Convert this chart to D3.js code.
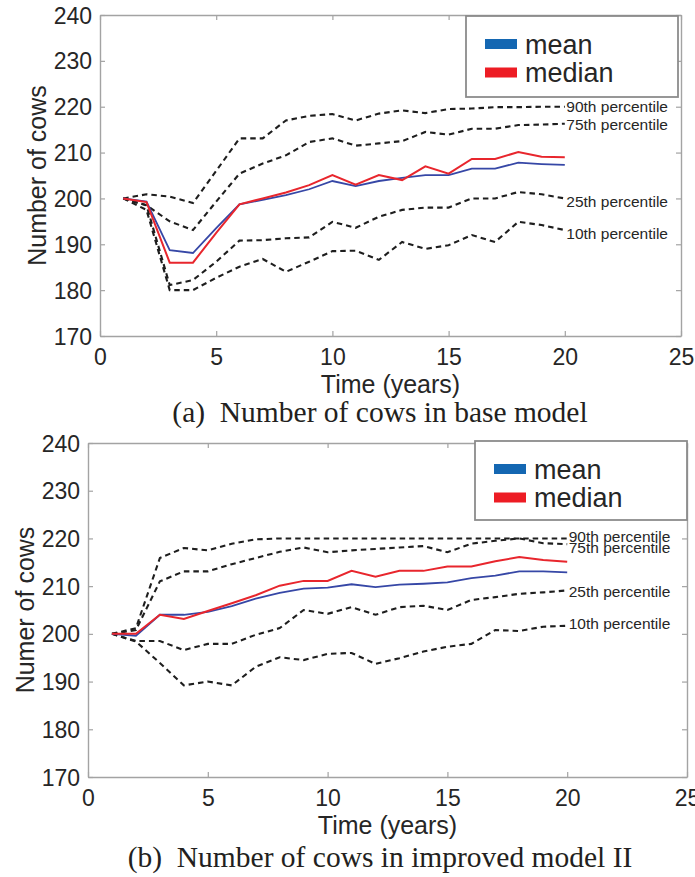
<!DOCTYPE html>
<html>
<head>
<meta charset="utf-8">
<script src="https://cdn.jsdelivr.net/npm/d3@7/dist/d3.min.js"></script>
<style>
  html, body { margin: 0; padding: 0; background: #fff; }
  svg { display: block; }
</style>
</head>
<body>
<svg id="chart" width="695" height="877"></svg>
<script>
// ---------------- DATA ----------------
const years = [1, 2, 3, 4, 5, 6, 7, 8, 9, 10, 11, 12, 13, 14, 15, 16, 17, 18, 19, 20];
const xTicks = [0, 5, 10, 15, 20, 25];
const yTicks = [170, 180, 190, 200, 210, 220, 230, 240];
const legendLabels = ["mean", "median"];
const percentileLabels = ["90th percentile", "75th percentile", "25th percentile", "10th percentile"];

// (a) base model
const baseMean   = [200, 199.3, 188.7, 188.1, 193.5, 198.7, 199.7, 200.7, 202.0, 203.8, 202.7, 203.8, 204.5, 205.1, 205.1, 206.5, 206.5, 207.8, 207.5, 207.3];
const baseMedian = [200, 199.2, 186.0, 186.0, 192.5, 198.7, 200.0, 201.3, 202.9, 205.1, 203.0, 205.1, 204.0, 207.0, 205.4, 208.6, 208.6, 210.1, 209.1, 209.0];
const baseP90    = [200, 200.9, 200.4, 199.0, 206.0, 213.1, 213.1, 217.0, 218.0, 218.4, 217.0, 218.5, 219.2, 218.6, 219.5, 219.6, 219.9, 219.9, 220.0, 220.0];
const baseP75    = [200, 198.5, 195.0, 193.1, 199.3, 205.4, 207.6, 209.4, 212.3, 213.1, 211.5, 212.0, 212.5, 214.5, 213.9, 215.2, 215.2, 216.0, 216.1, 216.3];
const baseP25    = [200, 198.5, 181.1, 182.2, 186.2, 190.8, 190.9, 191.3, 191.5, 194.9, 193.6, 196.0, 197.5, 198.0, 198.0, 200.0, 200.0, 201.4, 200.9, 200.0];
const baseP10    = [200, 197.5, 180.0, 180.0, 182.7, 185.1, 186.8, 184.0, 186.2, 188.5, 188.6, 186.6, 190.5, 189.0, 189.8, 192.0, 190.5, 194.9, 194.2, 193.1];

// (b) improved model II
const impMean   = [200, 199.6, 204.0, 204.0, 204.6, 205.8, 207.4, 208.6, 209.5, 209.7, 210.4, 209.8, 210.3, 210.5, 210.8, 211.7, 212.2, 213.1, 213.1, 212.9];
const impMedian = [200, 200.0, 204.0, 203.1, 204.8, 206.4, 208.1, 210.1, 211.1, 211.1, 213.2, 212.0, 213.2, 213.2, 214.1, 214.1, 215.2, 216.1, 215.5, 215.1];
const impP90    = [200, 201.2, 215.9, 218.0, 217.5, 218.9, 219.8, 220.0, 220.0, 220.0, 220.0, 220.0, 220.0, 220.0, 220.0, 220.0, 220.0, 220.0, 220.0, 220.0];
const impP75    = [200, 200.8, 211.0, 213.1, 213.1, 214.6, 215.9, 217.2, 218.1, 217.1, 217.5, 217.8, 218.1, 218.4, 217.1, 218.9, 219.5, 220.0, 219.0, 218.8];
const impP25    = [200, 198.5, 198.5, 196.6, 197.9, 197.9, 199.8, 201.2, 205.0, 204.2, 205.6, 204.0, 205.6, 205.9, 205.0, 207.1, 207.7, 208.4, 208.7, 209.1];
const impP10    = [200, 198.4, 193.9, 189.2, 190.0, 189.2, 193.1, 195.1, 194.5, 195.8, 196.0, 193.7, 194.9, 196.3, 197.3, 197.9, 200.8, 200.6, 201.5, 201.7];

// ---------------- LAYOUT ----------------
const panels = [
  {
    box: { left: 100, right: 681, top: 15, bottom: 336 },
    yLabel: "Number of cows",
    caption: "(a)  Number of cows in base model",
    captionY: 422,
    mean: baseMean, median: baseMedian,
    pct: [baseP90, baseP75, baseP25, baseP10],
    pctNudge: [0, 0.5, 3.4, 3.4],
    pctDx: 1.5,
    legend: { x: 466, y: 16, w: 212, h: 81 }
  },
  {
    box: { left: 88, right: 687, top: 443, bottom: 777 },
    yLabel: "Numer of cows",
    caption: "(b)  Number of cows in improved model II",
    captionY: 867,
    mean: impMean, median: impMedian,
    pct: [impP90, impP75, impP25, impP10],
    pctNudge: [-1.6, 3.4, 1.0, -2.0],
    pctDx: 1.5,
    legend: { x: 475, y: 441, w: 212, h: 79 }
  }
];

const SANS = "'Liberation Sans', Arial, Helvetica, sans-serif";
const SERIF = "'Liberation Serif', 'Times New Roman', serif";
const TEXT = "#262626";
const AXIS = "#a3a3a3";
const LINE_BLUE = "#3647a6";
const LINE_RED = "#e8262d";
const SW_BLUE = "#1467b2";
const SW_RED = "#ed1c24";

const svg = d3.select("#chart");

panels.forEach(p => {
  const b = p.box;
  const x = d3.scaleLinear().domain([0, 25]).range([b.left, b.right]);
  const y = d3.scaleLinear().domain([170, 240]).range([b.bottom, b.top]);
  const g = svg.append("g");

  // axes (MATLAB-like box with inward ticks)
  const styleAxis = sel => {
    sel.select(".domain").attr("stroke", AXIS).attr("stroke-width", 1.4);
    sel.selectAll(".tick line").attr("stroke", AXIS).attr("stroke-width", 1.2);
  };
  const xb = g.append("g").attr("transform", `translate(0,${b.bottom})`)
    .call(d3.axisBottom(x).tickValues(xTicks).tickSizeInner(-5).tickSizeOuter(0))
    .call(styleAxis);
  xb.selectAll(".tick text")
    .attr("y", 29).attr("dy", null)
    .attr("font-family", SANS).attr("font-size", 23).attr("fill", TEXT);

  g.append("g").attr("transform", `translate(0,${b.top})`)
    .call(d3.axisTop(x).tickValues(xTicks).tickSizeInner(-5).tickSizeOuter(0).tickFormat(""))
    .call(styleAxis);

  const yl = g.append("g").attr("transform", `translate(${b.left},0)`)
    .call(d3.axisLeft(y).tickValues(yTicks).tickSizeInner(-5).tickSizeOuter(0))
    .call(styleAxis);
  yl.selectAll(".tick text")
    .attr("x", -8).attr("dy", "0.35em")
    .attr("font-family", SANS).attr("font-size", 23).attr("fill", TEXT);

  g.append("g").attr("transform", `translate(${b.right},0)`)
    .call(d3.axisRight(y).tickValues(yTicks).tickSizeInner(-5).tickSizeOuter(0).tickFormat(""))
    .call(styleAxis);

  // axis titles
  g.append("text")
    .attr("transform", `translate(${b.left - 54},${(b.top + b.bottom) / 2}) rotate(-90)`)
    .attr("text-anchor", "middle")
    .attr("font-family", SANS).attr("font-size", 25).attr("fill", TEXT)
    .text(p.yLabel);
  g.append("text")
    .attr("x", (b.left + b.right) / 2).attr("y", b.bottom + 57)
    .attr("text-anchor", "middle")
    .attr("font-family", SANS).attr("font-size", 25).attr("fill", TEXT)
    .text("Time (years)");

  // lines
  const line = d3.line().x((d, i) => x(years[i])).y(d => y(d));

  p.pct.forEach((arr, k) => {
    g.append("path").datum(arr)
      .attr("d", line).attr("fill", "none")
      .attr("stroke", "#1e1e1e").attr("stroke-width", 2.1)
      .attr("stroke-dasharray", "5.5,4");
    g.append("text")
      .attr("x", x(years[years.length - 1]) + p.pctDx)
      .attr("y", y(arr[arr.length - 1]) + p.pctNudge[k])
      .attr("dy", "0.35em")
      .attr("font-family", SANS).attr("font-size", 15.5).attr("fill", TEXT)
      .text(percentileLabels[k]);
  });

  g.append("path").datum(p.mean)
    .attr("d", line).attr("fill", "none")
    .attr("stroke", LINE_BLUE).attr("stroke-width", 1.8);
  g.append("path").datum(p.median)
    .attr("d", line).attr("fill", "none")
    .attr("stroke", LINE_RED).attr("stroke-width", 2);

  // legend
  const L = p.legend;
  const lg = g.append("g").attr("transform", `translate(${L.x},${L.y})`);
  lg.append("rect").attr("width", L.w).attr("height", L.h)
    .attr("fill", "#fff").attr("stroke", "#8c8c8c").attr("stroke-width", 1.8);
  const swatchColors = [SW_BLUE, SW_RED];
  legendLabels.forEach((lab, i) => {
    const cy = 28 + i * 28.5;
    lg.append("rect").attr("x", 19).attr("y", cy - 5).attr("width", 32).attr("height", 10)
      .attr("fill", swatchColors[i]);
    lg.append("text").attr("x", 59).attr("y", cy + 9.5)
      .attr("font-family", SANS).attr("font-size", 27).attr("fill", TEXT)
      .text(lab);
  });

  // caption
  svg.append("text")
    .attr("x", 380).attr("y", p.captionY)
    .attr("text-anchor", "middle")
    .style("white-space", "pre")
    .attr("font-family", SERIF).attr("font-size", 29.5).attr("fill", "#231f20")
    .text(p.caption);
});
</script>
</body>
</html>
